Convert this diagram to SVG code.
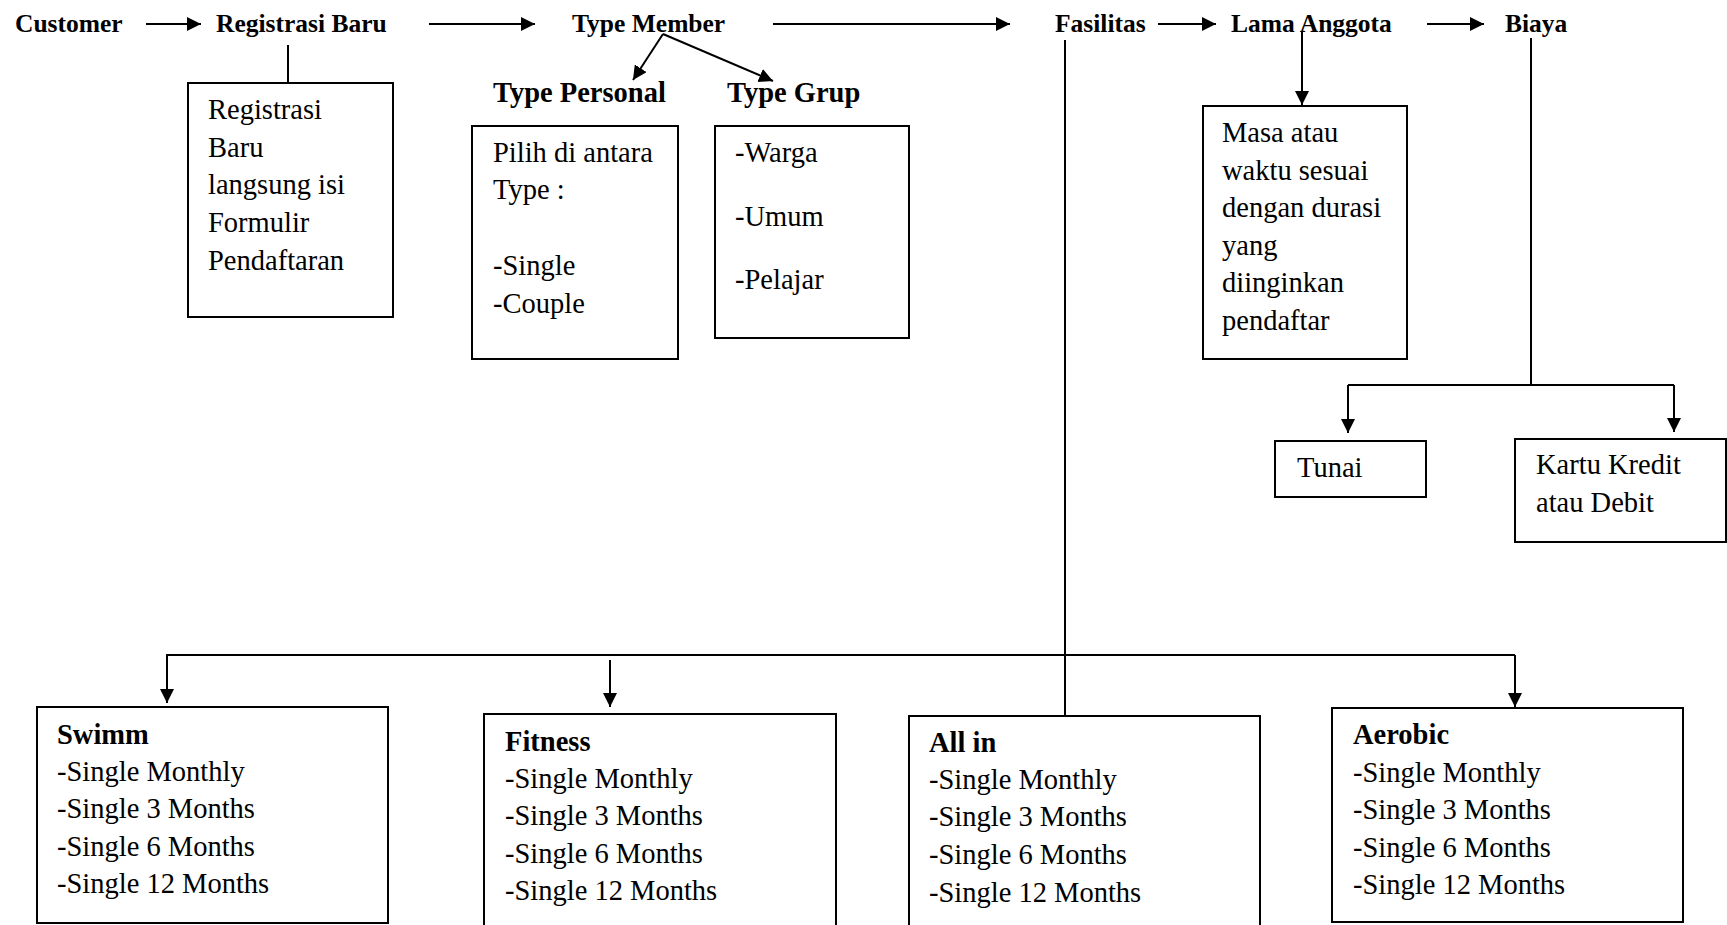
<svg xmlns="http://www.w3.org/2000/svg" width="1727" height="925" viewBox="0 0 1727 925">
<style>
.h{font-family:"Liberation Serif","Times New Roman",serif;font-weight:bold;font-size:25.5px;fill:#000}
.h2{font-family:"Liberation Serif","Times New Roman",serif;font-weight:bold;font-size:28.5px;fill:#000}
.t{font-family:"Liberation Serif","Times New Roman",serif;font-size:28.5px;fill:#000}
.box{fill:#fff;stroke:#000;stroke-width:2}
.ln{fill:none;stroke:#000;stroke-width:2}
.ar{fill:none;stroke:#000;stroke-width:2;marker-end:url(#arr)}
</style>
<defs>
<marker id="arr" markerUnits="userSpaceOnUse" markerWidth="15" markerHeight="14" refX="14" refY="7" orient="auto">
<path d="M0,0 L14,7 L0,14 z" fill="#000"/>
</marker>
</defs>
<rect width="1727" height="925" fill="#fff"/>
<g id="connectors">
<line class="ar" x1="146" y1="24" x2="201" y2="24"/>
<line class="ar" x1="429" y1="24" x2="535" y2="24"/>
<line class="ar" x1="773" y1="24" x2="1010" y2="24"/>
<line class="ar" x1="1158" y1="24" x2="1216" y2="24"/>
<line class="ar" x1="1427" y1="24" x2="1484" y2="24"/>
<line class="ln" x1="288" y1="45" x2="288" y2="83"/>
<line class="ar" x1="663" y1="34" x2="633" y2="80"/>
<line class="ar" x1="663" y1="34" x2="773" y2="81"/>
<line class="ar" x1="1302" y1="32" x2="1302" y2="105"/>
<line class="ln" x1="1531" y1="38" x2="1531" y2="385"/>
<polyline class="ln" points="1348,385 1674,385"/>
<line class="ar" x1="1348" y1="385" x2="1348" y2="433"/>
<line class="ar" x1="1674" y1="385" x2="1674" y2="432"/>
<line class="ln" x1="1065" y1="40" x2="1065" y2="716"/>
<polyline class="ln" points="167,702 167,655 1515,655"/>
<line class="ar" x1="167" y1="655" x2="167" y2="703"/>
<line class="ar" x1="610" y1="660" x2="610" y2="707"/>
<line class="ar" x1="1515" y1="655" x2="1515" y2="707"/>
</g>
<g id="customer"><text class="h" x="15" y="32">Customer</text></g>
<g id="registrasi-baru"><text class="h" x="216" y="32">Registrasi Baru</text></g>
<g id="type-member"><text class="h" x="572" y="32">Type Member</text></g>
<g id="fasilitas"><text class="h" x="1055" y="32">Fasilitas</text></g>
<g id="lama-anggota"><text class="h" x="1231" y="32">Lama Anggota</text></g>
<g id="biaya"><text class="h" x="1505" y="32">Biaya</text></g>
<g id="registrasi-box">
<rect class="box" x="188" y="83" width="205" height="234"/>
<text class="t" x="208" y="119">Registrasi</text>
<text class="t" x="208" y="157">Baru</text>
<text class="t" x="208" y="194">langsung isi</text>
<text class="t" x="208" y="232">Formulir</text>
<text class="t" x="208" y="270">Pendaftaran</text>
</g>
<g id="type-personal">
<text class="h2" x="493" y="102">Type Personal</text>
<rect class="box" x="472" y="126" width="206" height="233"/>
<text class="t" x="493" y="162">Pilih di antara</text>
<text class="t" x="493" y="199">Type :</text>
<text class="t" x="493" y="275">-Single</text>
<text class="t" x="493" y="313">-Couple</text>
</g>
<g id="type-grup">
<text class="h2" x="727" y="102">Type Grup</text>
<rect class="box" x="715" y="126" width="194" height="212"/>
<text class="t" x="735" y="162">-Warga</text>
<text class="t" x="735" y="226">-Umum</text>
<text class="t" x="735" y="289">-Pelajar</text>
</g>
<g id="masa-box">
<rect class="box" x="1203" y="106" width="204" height="253"/>
<text class="t" x="1222" y="142">Masa atau</text>
<text class="t" x="1222" y="180">waktu sesuai</text>
<text class="t" x="1222" y="217">dengan durasi</text>
<text class="t" x="1222" y="255">yang</text>
<text class="t" x="1222" y="292">diinginkan</text>
<text class="t" x="1222" y="330">pendaftar</text>
</g>
<g id="tunai">
<rect class="box" x="1275" y="441" width="151" height="56"/>
<text class="t" x="1297" y="477">Tunai</text>
</g>
<g id="kartu">
<rect class="box" x="1515" y="439" width="211" height="103"/>
<text class="t" x="1536" y="474">Kartu Kredit</text>
<text class="t" x="1536" y="512">atau Debit</text>
</g>
<g id="swimm">
<rect class="box" x="37" y="707" width="351" height="216"/>
<text class="h2" x="57" y="744">Swimm</text>
<text class="t" x="57" y="781">-Single Monthly</text>
<text class="t" x="57" y="818">-Single 3 Months</text>
<text class="t" x="57" y="856">-Single 6 Months</text>
<text class="t" x="57" y="893">-Single 12 Months</text>
</g>
<g id="fitness">
<rect class="box" x="484" y="714" width="352" height="220"/>
<text class="h2" x="505" y="751">Fitness</text>
<text class="t" x="505" y="788">-Single Monthly</text>
<text class="t" x="505" y="825">-Single 3 Months</text>
<text class="t" x="505" y="863">-Single 6 Months</text>
<text class="t" x="505" y="900">-Single 12 Months</text>
</g>
<g id="all-in">
<rect class="box" x="909" y="716" width="351" height="220"/>
<text class="h2" x="929" y="752">All in</text>
<text class="t" x="929" y="789">-Single Monthly</text>
<text class="t" x="929" y="826">-Single 3 Months</text>
<text class="t" x="929" y="864">-Single 6 Months</text>
<text class="t" x="929" y="902">-Single 12 Months</text>
</g>
<g id="aerobic">
<rect class="box" x="1332" y="708" width="351" height="214"/>
<text class="h2" x="1353" y="744">Aerobic</text>
<text class="t" x="1353" y="782">-Single Monthly</text>
<text class="t" x="1353" y="819">-Single 3 Months</text>
<text class="t" x="1353" y="857">-Single 6 Months</text>
<text class="t" x="1353" y="894">-Single 12 Months</text>
</g>
</svg>
